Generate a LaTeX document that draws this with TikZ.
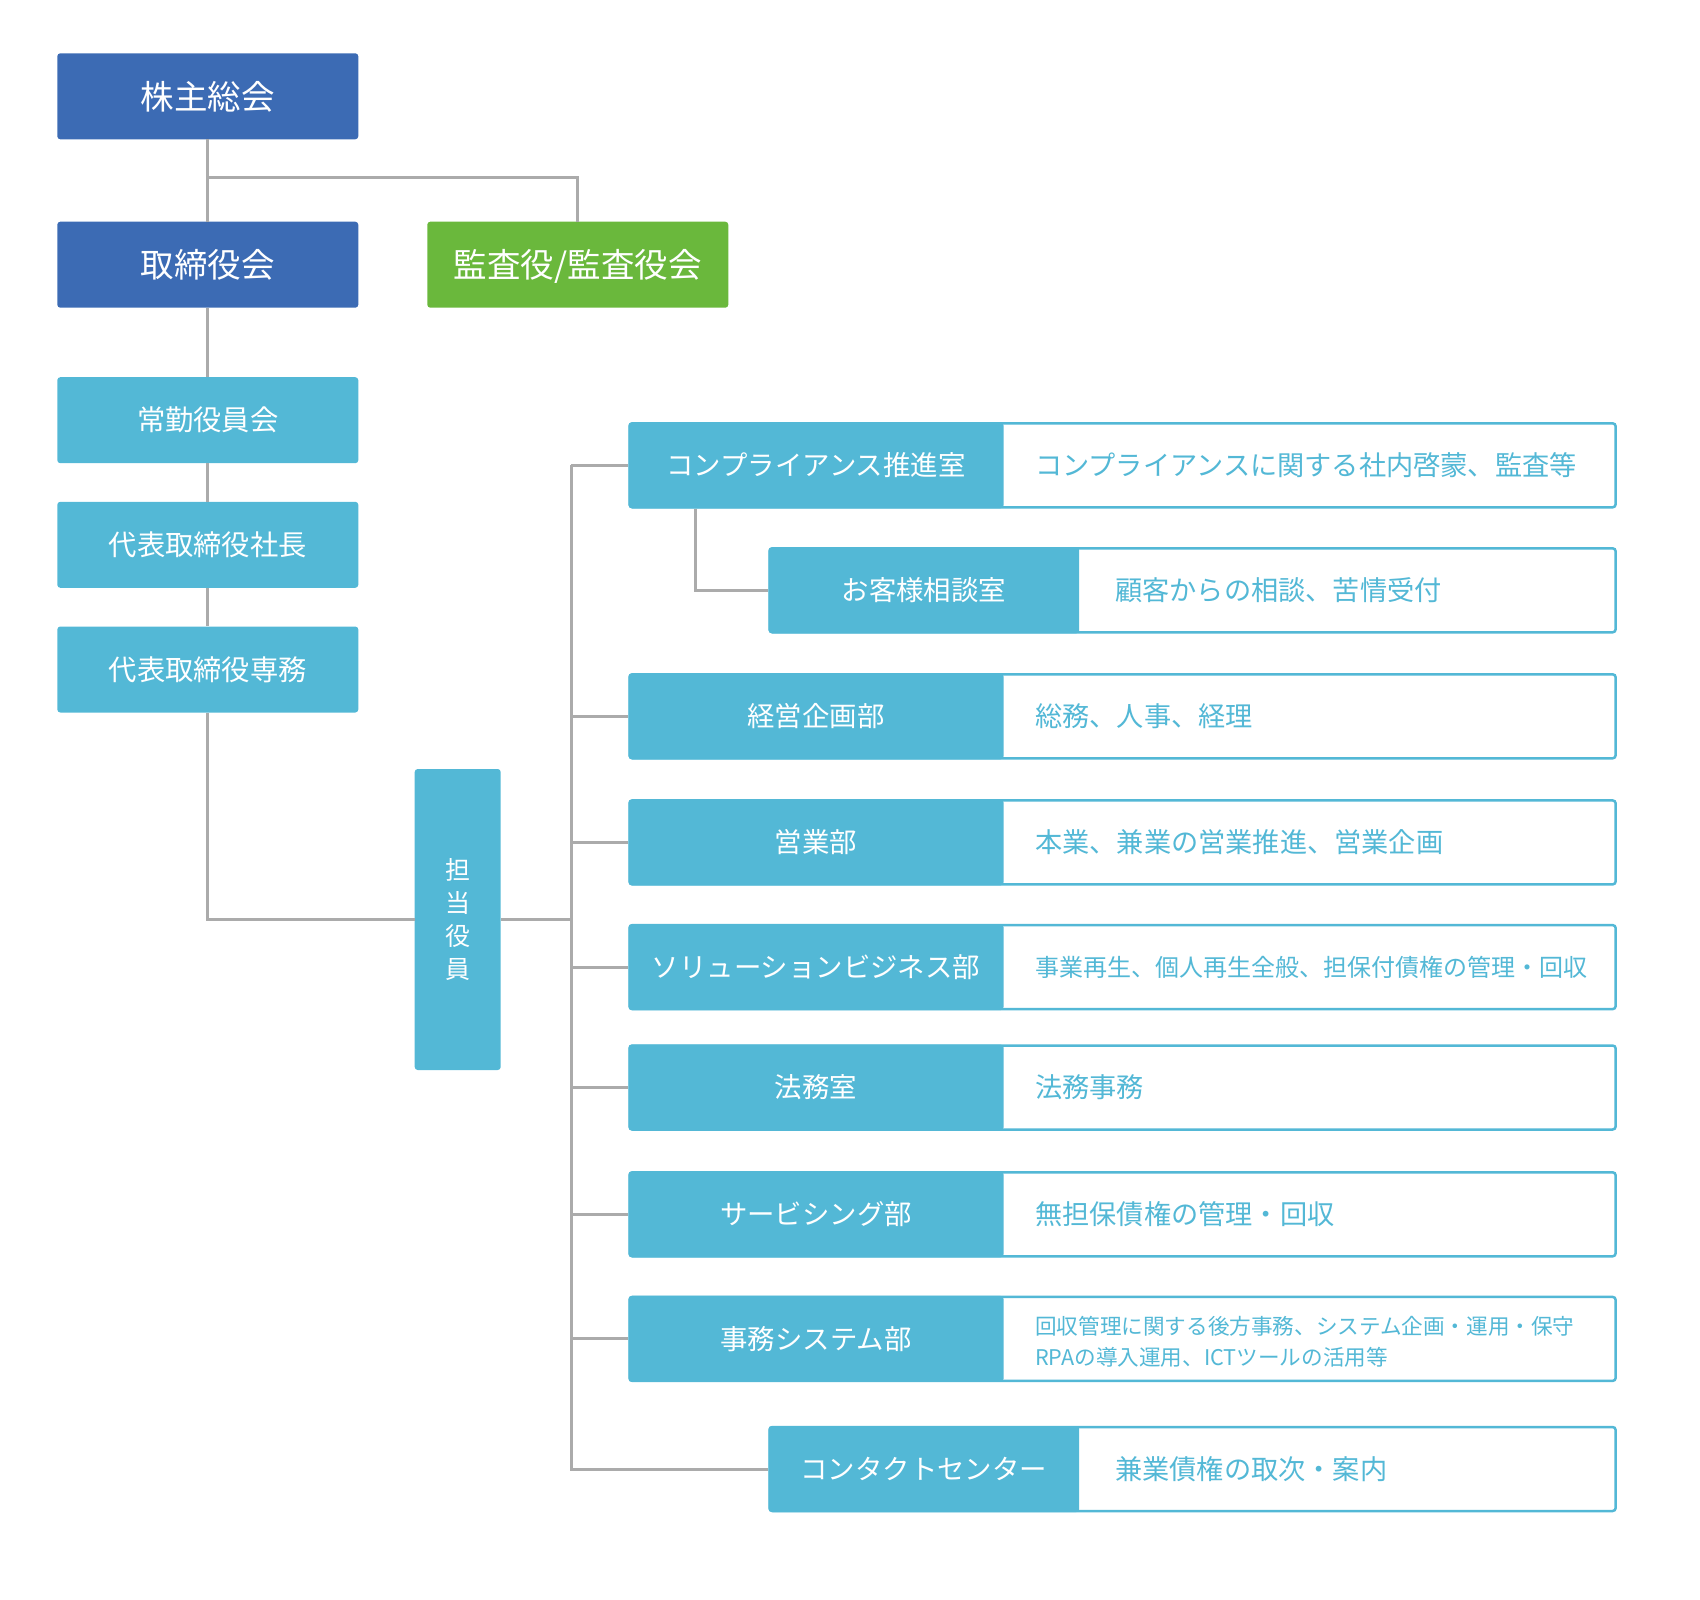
\documentclass[tikz,border=0pt]{standalone}
\usepackage{fontspec}
\setmainfont{Noto Sans CJK JP}
\definecolor{dblue}{HTML}{3C6BB4}
\definecolor{agreen}{HTML}{6AB83C}
\definecolor{lblue}{HTML}{53B8D6}
\definecolor{lgray}{HTML}{ABABAB}
\newcommand\deptrow[8]{%
  % #1 name, #2 xleft, #3 xsplit, #4 yc, #5 label, #6 desc, #7 desc x, #8 desc style
  \node[frame, minimum width={1614.4pt-#2pt}, anchor=west] (#1frame) at (#2,#4) {};
  \node[dept, minimum width={#3pt-#2pt}, anchor=west] (#1) at (#2,#4) {#5};
  \node[desc, #8, anchor=west] (#1desc) at (#7,#4) {#6};
}
\begin{document}
\begin{tikzpicture}[x=1pt,y=-1pt,
  cjk/.style={font=\fontsize{#1}{#1}\selectfont,text height=0.88*#1pt,text depth=0.12*#1pt,inner sep=0pt},
  bigbox/.style={rectangle,rounded corners=3pt,minimum width=301pt,minimum height=86pt,
    text=white,cjk=33.5},
  topbox/.style={bigbox,fill=dblue},
  auditbox/.style={bigbox,fill=agreen},
  execbox/.style={rectangle,rounded corners=3pt,fill=lblue,minimum width=301pt,minimum height=86pt,
    text=white,cjk=28.3},
  frame/.style={rectangle,rounded corners=3pt,draw=lblue,line width=2.5pt,fill=white,
    minimum height=84pt,inner sep=0pt},
  dept/.style={rectangle,rounded corners=3pt,fill=lblue,minimum height=86pt,
    text=white,cjk=27.4},
  desc/.style={text=lblue,cjk=27.2},
  twoline/.style={font=\fontsize{21.6}{31.5}\selectfont,align=left,text height=,text depth=,yshift=-3pt},
  conn/.style={draw=lgray,line width=3pt}
]
\useasboundingbox (0,0) rectangle (1700,1600);

% top blocks
\node[topbox] (kabunushi) at (207.8,96.3) {株主総会};
\node[topbox] (torishimari) at (207.8,264.7) {取締役会};
\node[auditbox] (kansa) at (577.8,264.7) {監査役/監査役会};
\node[execbox] (joukin) at (207.8,420.2) {常勤役員会};
\node[execbox] (shachou) at (207.8,544.8) {代表取締役社長};
\node[execbox] (senmu) at (207.8,669.5) {代表取締役専務};
\node[rectangle,rounded corners=3pt,fill=lblue,minimum width=86pt,minimum height=301pt,
  text=white,font=\fontsize{25}{32.7}\selectfont,align=center,inner sep=0pt]
  (tantou) at (457.7,919.5) {担\\当\\役\\員};

% department rows
\deptrow{r1}{628.3}{1003.3}{465.3}{コンプライアンス推進室}{コンプライアンスに関する社内啓蒙、監査等}{1035}{}
\deptrow{r2}{768.3}{1079}{590.3}{お客様相談室}{顧客からの相談、苦情受付}{1115}{}
\deptrow{r3}{628.3}{1003.3}{716.3}{経営企画部}{総務、人事、経理}{1035}{}
\deptrow{r4}{628.3}{1003.3}{842.4}{営業部}{本業、兼業の営業推進、営業企画}{1035}{}
\deptrow{r5}{628.3}{1003.3}{967.1}{ソリューションビジネス部}{事業再生、個人再生全般、担保付債権の管理・回収}{1035}{cjk=24}
\deptrow{r6}{628.3}{1003.3}{1087.5}{法務室}{法務事務}{1035}{}
\deptrow{r7}{628.3}{1003.3}{1214.3}{サービシング部}{無担保債権の管理・回収}{1035}{}
\deptrow{r8}{628.3}{1003.3}{1338.9}{事務システム部}{回収管理に関する後方事務、システム企画・運用・保守\\RPAの導入運用、ICTツールの活用等}{1035}{twoline}
\deptrow{r9}{768.3}{1079}{1469}{コンタクトセンター}{兼業債権の取次・案内}{1115}{}

% connectors
\coordinate (j1) at (207.8,177.3);
\coordinate (trunk) at (571,465.3);
\coordinate (subx) at (695,508.3);
\draw[conn] (kabunushi.south) -- (torishimari.north);
\draw[conn] (j1) -| (kansa.north);
\draw[conn] (torishimari.south) -- (joukin.north);
\draw[conn] (joukin.south) -- (shachou.north);
\draw[conn] (shachou.south) -- (senmu.north);
\draw[conn] (senmu.south) |- (tantou.west);
\draw[conn] (tantou.east) -- (tantou.east -| trunk);
\draw[conn] (trunk) |- (r9.west);
\draw[conn] (trunk) -- (r1.west);
\draw[conn] (r1.south -| subx) |- (r2.west);
\foreach \r in {r3,r4,r5,r6,r7,r8}{
  \draw[conn] (\r.west -| trunk) -- (\r.west);
}
\end{tikzpicture}
\end{document}
